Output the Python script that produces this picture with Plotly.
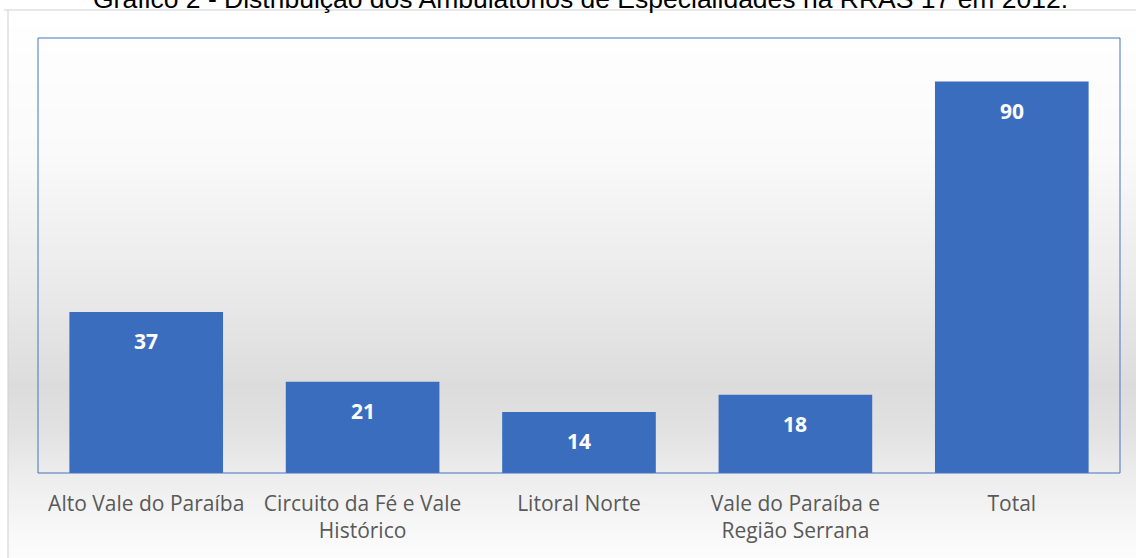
import plotly.graph_objects as go

categories = ["Alto Vale do Paraíba", "Circuito da Fé e Vale<br>Histórico", "Litoral Norte",
              "Vale do Paraíba e<br>Região Serrana", "Total"]
values = [37, 21, 14, 18, 90]
title_text = "Gráfico 2 - Distribuição dos Ambulatórios de Especialidades na RRAS 17 em 2012."

W, H = 1136, 558
ml, mr, mt, mb = 38, 16, 38, 85

fig = go.Figure()
fig.add_trace(go.Bar(
    x=list(range(len(categories))), y=values,
    marker=dict(color="#3B6DBF", line=dict(width=0)),
    hoverinfo="x+y",
))

shapes = []
def lerp(a, b, t):
    return int(round(a + (b - a) * t))
px = lambda xx: (xx - ml) / (W - ml - mr)
py = lambda yy: 1 - (yy - mt) / (H - mt - mb)
stops = [(10, 255), (150, 250), (300, 232), (385, 220), (430, 226), (480, 238), (540, 250), (558, 252)]
y = 10
step = 4
while y < H:
    v = 252
    for i in range(len(stops) - 1):
        if stops[i][0] <= y <= stops[i + 1][0]:
            t = (y - stops[i][0]) / (stops[i + 1][0] - stops[i][0])
            v = lerp(stops[i][1], stops[i + 1][1], t)
            break
    shapes.append(dict(type="rect", xref="paper", yref="paper", x0=px(8), x1=px(W),
                       y0=py(y + step), y1=py(y),
                       fillcolor=f"rgb({v},{v},{v})", line=dict(width=0), layer="below"))
    y += step
shapes.append(dict(type="line", xref="paper", yref="paper", x0=px(8), x1=px(8), y0=py(10), y1=py(H),
                   line=dict(color="#d0d0d0", width=1), layer="below"))
shapes.append(dict(type="line", xref="paper", yref="paper", x0=px(4), x1=px(W), y0=py(10), y1=py(10),
                   line=dict(color="#d0d0d0", width=1), layer="below"))
shapes.append(dict(type="rect", xref="paper", yref="paper", x0=0, x1=1, y0=0, y1=1,
                   line=dict(color="#4472C4", width=1), layer="above"))

annotations = []
for i, v in enumerate(values):
    annotations.append(dict(x=i, y=v, xref="x", yref="y", text=f"<b>{v}</b>", showarrow=False,
                            yshift=-29, yanchor="middle",
                            font=dict(family="Open Sans, Noto Sans, sans-serif", size=21, color="white")))
annotations.append(dict(x=px(W / 2 + 12), y=py(-1), xref="paper", yref="paper", text=title_text,
                        showarrow=False, xanchor="center", yanchor="middle",
                        font=dict(family="Liberation Sans, Arial, sans-serif", size=26.5, color="#000000")))

fig.update_layout(
    width=W, height=H,
    margin=dict(l=ml, r=mr, t=mt, b=mb, pad=0),
    paper_bgcolor="white", plot_bgcolor="rgba(0,0,0,0)",
    bargap=0.29,
    showlegend=False,
    xaxis=dict(range=[-0.5, 4.5], tickmode="array", tickvals=list(range(len(categories))),
               ticktext=categories, showgrid=False, zeroline=False, showline=False, ticks="",
               ticklabelstandoff=16,
               tickfont=dict(family="Open Sans, Noto Sans, sans-serif", size=21, color="#595959")),
    yaxis=dict(range=[0, 100], visible=False, showgrid=False, zeroline=False),
    shapes=shapes, annotations=annotations,
)
fig.write_html("out.html", config={"displayModeBar": False},
               post_script="document.body.style.margin='0';document.body.style.overflow='hidden';")
